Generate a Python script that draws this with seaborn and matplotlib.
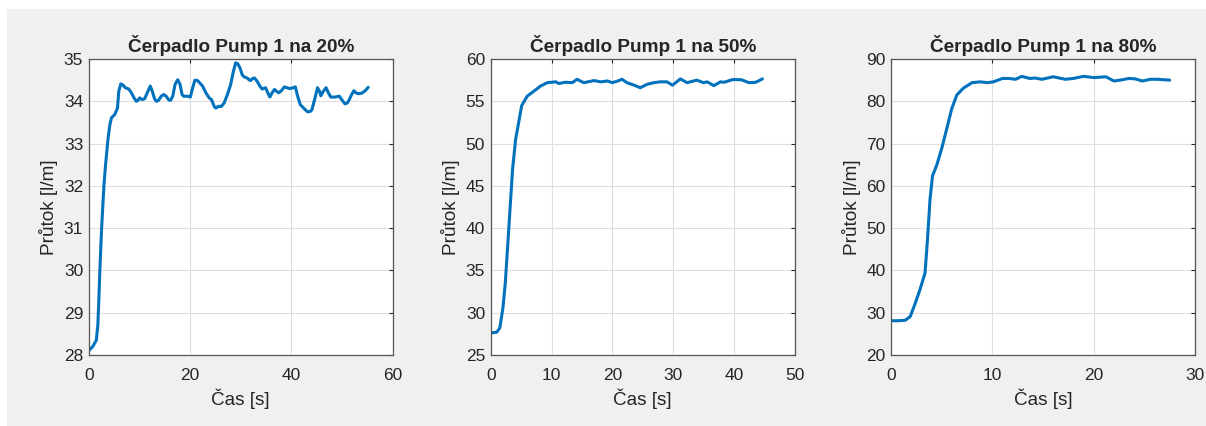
import numpy as np
import matplotlib
matplotlib.use("Agg")
import matplotlib.pyplot as plt
import seaborn as sns
from matplotlib.patches import Rectangle

# Pump 1 at 20 %
t20 = [0, 0.8, 1.5, 1.8, 2.0, 2.2, 2.55, 3.0, 3.33, 3.8, 4.18, 4.5, 5.16, 5.68,
       5.94, 6.33, 6.79, 7.25, 7.9, 8.43, 8.95, 9.4, 9.73, 10.06, 10.52, 11.04,
       11.56, 12.15, 12.54, 13.0, 13.33, 13.78, 14.31, 14.83, 15.29, 15.75,
       16.14, 16.59, 17.05, 17.57, 18.03, 18.43, 18.75, 19.54, 20.06, 20.52,
       20.97, 21.5, 22.02, 22.48, 23.13, 23.78, 24.24, 24.76, 25.09, 25.61,
       26.2, 26.73, 27.38, 28.03, 28.56, 29.01, 29.4, 29.86, 30.32, 30.78,
       31.3, 31.63, 31.95, 32.35, 32.74, 33.26, 33.78, 34.24, 34.9, 35.35,
       35.75, 36.2, 36.66, 37.05, 37.51, 38.03, 38.62, 39.14, 39.67, 40.32,
       40.78, 41.24, 41.76, 42.41, 43.2, 43.72, 44.05, 44.5, 45.16, 45.55,
       45.81, 46.33, 46.86, 47.31, 47.77, 48.62, 49.47, 49.93, 50.58, 51.04,
       51.43, 51.89, 52.35, 52.74, 53.2, 53.85, 54.5, 55.16]
q20 = [28.1, 28.2, 28.35, 28.7, 29.3, 30.0, 31.0, 32.0, 32.5, 33.1, 33.45,
       33.61, 33.69, 33.84, 34.24, 34.41, 34.38, 34.32, 34.29, 34.2, 34.08,
       34.0, 34.02, 34.08, 34.04, 34.06, 34.2, 34.36, 34.24, 34.06, 34.0,
       34.02, 34.12, 34.16, 34.12, 34.04, 34.02, 34.12, 34.4, 34.51, 34.4,
       34.16, 34.12, 34.12, 34.1, 34.32, 34.5, 34.49, 34.42, 34.36, 34.2,
       34.08, 34.04, 33.88, 33.84, 33.88, 33.88, 33.96, 34.16, 34.4, 34.71,
       34.91, 34.89, 34.79, 34.62, 34.57, 34.55, 34.51, 34.49, 34.54, 34.55,
       34.47, 34.36, 34.29, 34.32, 34.2, 34.1, 34.2, 34.28, 34.24, 34.2,
       34.25, 34.34, 34.32, 34.3, 34.32, 34.34, 34.12, 33.92, 33.84, 33.75,
       33.76, 33.8, 34.0, 34.32, 34.24, 34.13, 34.24, 34.32, 34.2, 34.1,
       34.1, 34.12, 34.04, 33.94, 33.96, 34.04, 34.16, 34.25, 34.2, 34.18,
       34.19, 34.24, 34.33]

# Pump 1 at 50 %
t50 = [0, 1.0, 1.5, 2.0, 2.4, 2.8, 3.2, 3.6, 4.1, 4.6, 5.1, 6.0, 7.1, 8.2, 9.3,
       10.7, 11.2, 12.3, 13.4, 14.2, 15.3, 17.0, 18.1, 19.2, 20.0, 20.9, 21.6,
       22.4, 23.6, 24.6, 25.7, 26.8, 27.9, 29.0, 29.9, 31.2, 32.3, 33.9, 35.0,
       35.6, 36.7, 37.8, 38.4, 39.8, 41.2, 42.5, 43.6, 44.7]
q50 = [27.6, 27.7, 28.2, 30.5, 33.5, 38.0, 42.5, 47.0, 50.5, 52.5, 54.5, 55.6,
       56.2, 56.8, 57.2, 57.3, 57.1, 57.25, 57.2, 57.6, 57.2, 57.45, 57.3, 57.4,
       57.2, 57.4, 57.6, 57.2, 56.9, 56.6, 57.0, 57.2, 57.3, 57.3, 56.9, 57.65,
       57.2, 57.5, 57.2, 57.3, 56.85, 57.3, 57.25, 57.57, 57.55, 57.2, 57.25,
       57.65]

# Pump 1 at 80 %
t80 = [0, 0.7, 1.4, 1.9, 2.4, 2.85, 3.36, 3.6, 3.85, 4.1, 4.5, 5.0, 5.5, 6.0,
       6.5, 7.14, 8.0, 8.8, 9.5, 10.1, 11.0, 11.6, 12.3, 12.9, 13.7, 14.2, 14.9,
       16.0, 17.2, 18.0, 19.0, 20.0, 21.2, 22.0, 22.6, 23.5, 24.1, 24.8, 25.6,
       26.3, 27.5]
q80 = [28.1, 28.1, 28.2, 29.1, 32.3, 35.4, 39.4, 47.3, 56.8, 62.4, 64.8, 68.8,
       73.5, 78.3, 81.5, 83.1, 84.4, 84.6, 84.4, 84.6, 85.4, 85.4, 85.2, 85.9,
       85.4, 85.5, 85.2, 85.8, 85.2, 85.4, 85.9, 85.6, 85.8, 84.8, 85.0, 85.4,
       85.3, 84.8, 85.2, 85.2, 85.0]

titles = ["Čerpadlo Pump 1 na 20%", "Čerpadlo Pump 1 na 50%", "Čerpadlo Pump 1 na 80%"]
xlims = [(0, 60), (0, 50), (0, 30)]
ylims = [(28, 35), (25, 60), (20, 90)]

sns.set_style("white")
plt.rcParams["font.family"] = ["Liberation Sans", "DejaVu Sans"]

fig = plt.figure(figsize=(12.06, 4.26), dpi=100)
fig.patch.set_facecolor("white")
fig.patches.append(Rectangle((7 / 1206, 0), 1, (426 - 9) / 426,
                             transform=fig.transFigure, facecolor="#f0f0f0",
                             edgecolor="none", zorder=-10))

lefts = [88.7, 490.7, 891]
series = [(t20, q20), (t50, q50), (t80, q80)]
for i, (t, q) in enumerate(series):
    ax = fig.add_axes([lefts[i] / 1206, (426 - 355) / 426, 304 / 1206, 296 / 426])
    ax.set_facecolor("white")
    sns.lineplot(x=t, y=q, ax=ax, color="#0072BD", lw=2.2)
    ax.set_xlim(*xlims[i])
    ax.set_ylim(*ylims[i])
    ax.grid(True, color="#dedede", lw=0.8)
    for s in ax.spines.values():
        s.set_color("#555555")
        s.set_linewidth(0.9)
    ax.tick_params(direction="in", length=3, width=0.8, colors="#262626",
                   labelsize=12.5, top=True, right=True)
    ax.tick_params(axis="x", pad=9)
    ax.tick_params(axis="y", pad=4)
    ax.set_title(titles[i], fontsize=13.7, fontweight="bold", pad=5)
    ax.set_xlabel("Čas [s]", fontsize=13.7, color="#262626", labelpad=4)
    ax.set_ylabel("Průtok [l/m]", fontsize=13.7, color="#262626", labelpad=4)

fig.savefig("out.png", dpi=100, facecolor=fig.get_facecolor())
